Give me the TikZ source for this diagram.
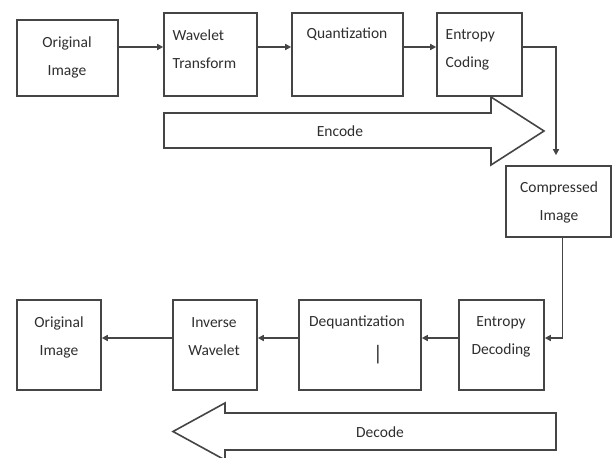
\documentclass[tikz,border=0pt]{standalone}
\usepackage{fontspec}
\setmainfont{Carlito}
\usetikzlibrary{arrows.meta}
\definecolor{ln}{HTML}{454545}
\definecolor{tx}{HTML}{2E2E2E}
\begin{document}
\begin{tikzpicture}[x=1pt,y=-1pt,
  box/.style={draw=ln,line width=1.6pt,rectangle,inner sep=0pt},
  lbl/.style={text=tx,font=\fontsize{15.5}{28}\selectfont,inner sep=0pt},
  arr/.style={draw=ln,line width=1.4pt,-{Triangle[length=6pt,width=6pt]}},
  fat/.style={draw=ln,line width=1.6pt,fill=white,line join=miter}]
\useasboundingbox (0,0) rectangle (612,457);
\clip (0,0) rectangle (612,457);
\coordinate (r1) at (0,47);
\coordinate (r2) at (0,338);
\coordinate (c1) at (562.5,0);
\coordinate (c2) at (556,0);
% top row
\node[box,minimum width=101,minimum height=76] (oi) at (67.5,58) {};
\node[box,minimum width=93,minimum height=83] (wt) at (210.5,54.5) {};
\node[box,minimum width=111,minimum height=83] (qz) at (347.5,54.5) {};
\node[box,minimum width=85,minimum height=83] (ec) at (479.5,54.5) {};
\node[box,minimum width=105,minimum height=71] (ci) at (558.5,201.5) {};
% bottom row
\node[box,minimum width=85,minimum height=90] (ed) at (501.5,345) {};
\node[box,minimum width=122,minimum height=90] (dq) at (360,345) {};
\node[box,minimum width=84,minimum height=90] (iw) at (215,345) {};
\node[box,minimum width=84,minimum height=90] (oo) at (59,345) {};
% texts
\node[lbl,align=center] (toi) at (67,57.5) {Original\\Image};
\node[lbl,align=left,anchor=west] (twt) at (172.5,49) {Wavelet\\Transform};
\node[lbl] (tqz) at (347,34.5) {Quantization};
\node[lbl,align=left,anchor=west] (tec) at (445.5,50) {Entropy\\Coding};
\node[lbl,align=center] (tci) at (559,202.5) {Compressed\\Image};
\node[lbl,align=center] (ted) at (501,337) {Entropy\\Decoding};
\node[lbl] (tdq) at (357,322.5) {Dequantization};
\node[lbl,font=\fontsize{21}{24}\selectfont] (bar) at (378,355) {|};
\node[lbl,align=center] (tiw) at (214,337) {Inverse\\Wavelet};
\node[lbl,align=center] (too) at (59,337) {Original\\Image};
% connectors
\draw[arr] (oi.east |- r1) -- (wt.west |- r1);
\draw[arr] (wt.east |- r1) -- (qz.west |- r1);
\draw[arr] (qz.east |- r1) -- (ec.west |- r1);
\draw[arr,shorten >=10pt] (ec.east |- r1) -| (ci.north -| c2);
\draw[arr] (ci.south -| c1) |- (ed.east |- r2);
\draw[arr] (ed.west |- r2) -- (dq.east |- r2);
\draw[arr] (dq.west |- r2) -- (iw.east |- r2);
\draw[arr] (iw.west |- r2) -- (oo.east |- r2);
% encode / decode block arrows
\draw[fat] (164,113) -- (491,113) -- (491,97) -- (544,131) -- (491,165) -- (491,148) -- (164,148) -- cycle;
\node[lbl] (enc) at (340,131) {Encode};
\draw[fat] (556,413) -- (225,413) -- (225,403) -- (173,431.5) -- (225,460) -- (225,450) -- (556,450) -- cycle;
\node[lbl] (dec) at (380,432) {Decode};
\end{tikzpicture}
\end{document}
